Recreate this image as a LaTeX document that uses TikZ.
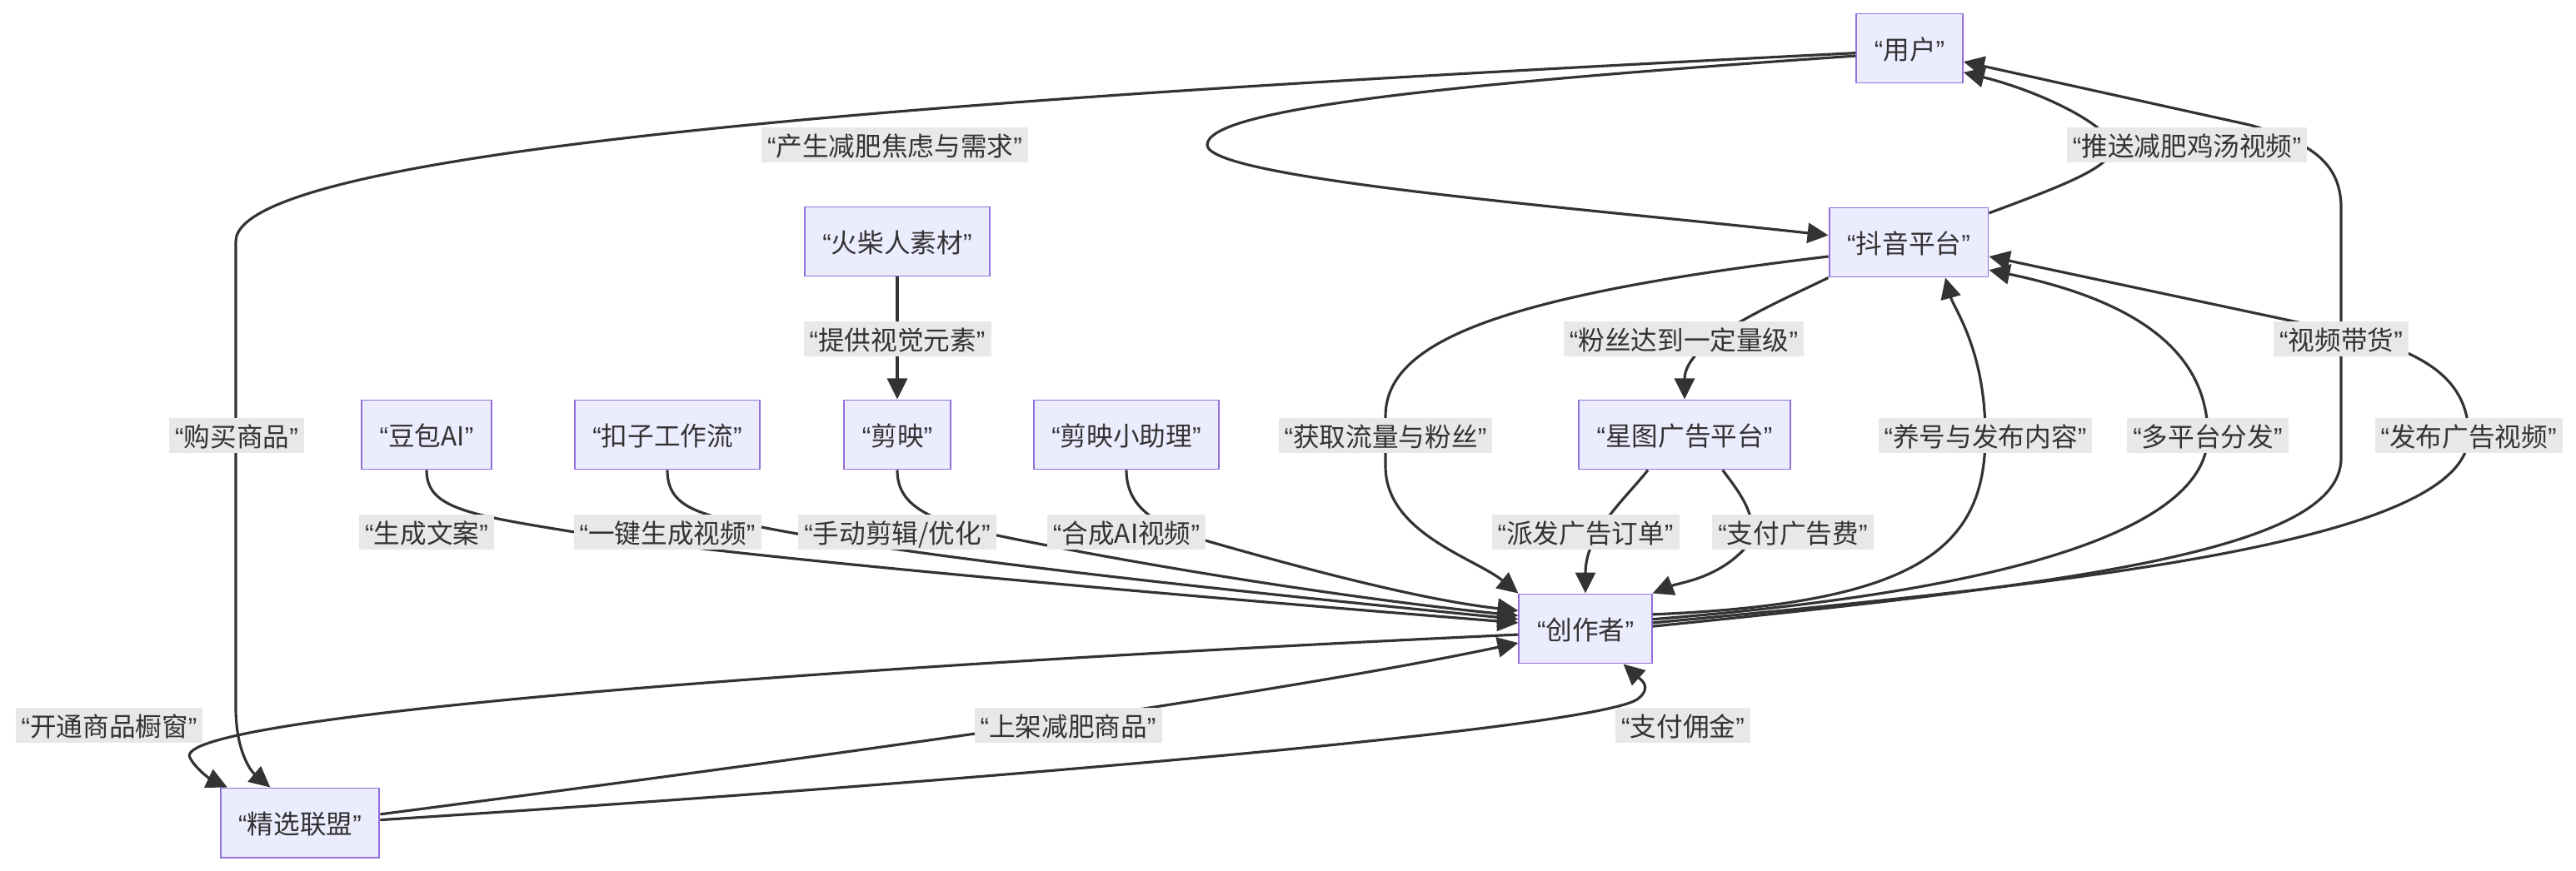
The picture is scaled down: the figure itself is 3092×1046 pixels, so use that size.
\documentclass[tikz,border=0pt]{standalone}
\usepackage{fontspec}
\setmainfont{Noto Sans CJK SC}
\newfontfamily\qfont{Liberation Sans}
\usepackage{tikz}
\usetikzlibrary{arrows.meta}
\definecolor{nodefill}{HTML}{ECECFF}
\definecolor{nodeline}{HTML}{9370DB}
\definecolor{edgecol}{HTML}{333333}
\definecolor{lblfill}{HTML}{E8E8E8}
\newcommand{\qt}[1]{{\qfont “}#1{\qfont ”}}

\begin{document}
\begin{tikzpicture}[x=0.01cm, y=-0.01cm,
    every node/.style={font=\fontsize{9}{10}\selectfont, text=edgecol},
    box/.style={draw=nodeline, fill=nodefill, line width=0.55pt, minimum height=0.83cm,
        inner xsep=0.216cm, text height=0.88em, text depth=0.12em},
    lbl/.style={fill=lblfill, inner xsep=0.07cm, inner ysep=0.03cm,
        text height=0.88em, text depth=0.12em},
    flow/.style={draw=edgecol, line width=0.9pt, -{Triangle[length=0.25cm,width=0.24cm]}}]
    \useasboundingbox (0,0) rectangle (3092,1046);

    % Nodos principales
    \node[box] (user) at (2292,58) {\qt{用户}};
    \node[box] (douyin) at (2291,291) {\qt{抖音平台}};
    \node[box] (match) at (1077,290) {\qt{火柴人素材}};
    \node[box] (dou) at (512,522) {\qt{豆包AI}};
    \node[box] (kouzi) at (801,522) {\qt{扣子工作流}};
    \node[box] (jy) at (1077,522) {\qt{剪映}};
    \node[box] (helper) at (1352,522) {\qt{剪映小助理}};
    \node[box] (xingtu) at (2022,522) {\qt{星图广告平台}};
    \node[box] (creator) at (1903,755) {\qt{创作者}};
    \node[box] (jxlm) at (360,988) {\qt{精选联盟}};

    % Arcos desde el usuario
    \draw[flow] (user.188) .. controls (1750,100) and (1449,130) .. (1449,174)
        .. controls (1449,215) and (1900,250) .. (douyin.175);
    \draw[flow] (user.185) .. controls (1300,110) and (283,170) .. (283,290) -- (283,850)
        .. controls (283,900) and (300,925) .. (jxlm.130);

    % Arcos hacia el usuario
    \draw[flow] (douyin.20) .. controls (2470,225) and (2540,200) .. (2535,175)
        .. controls (2530,150) and (2450,110) .. (user.-24);
    \draw[flow] (creator.2) .. controls (2500,700) and (2810,660) .. (2810,550) -- (2810,250)
        .. controls (2810,200) and (2780,172) .. (2700,150) -- (user.-14);

    % Arcos desde la plataforma
    \draw[flow] (douyin.190) .. controls (1800,355) and (1663,410) .. (1663,500) -- (1663,560)
        .. controls (1663,640) and (1770,670) .. (creator.north west);
    \draw[flow] (douyin.south west) .. controls (2130,365) and (2022,410) .. (xingtu.north);
    \draw[flow] (match) -- (jy);

    % Herramientas hacia el creador
    \draw[flow] (dou.south) .. controls (512,610) and (560,618) .. (690,639)
        .. controls (900,672) and (1500,722) .. (creator.175);
    \draw[flow] (kouzi.south) .. controls (801,610) and (840,618) .. (914,633)
        .. controls (1100,670) and (1500,712) .. (creator.172);
    \draw[flow] (jy.south) .. controls (1077,605) and (1110,625) .. (1197,643)
        .. controls (1400,685) and (1650,722) .. (creator.169);
    \draw[flow] (helper.south) .. controls (1352,605) and (1380,630) .. (1450,650)
        .. controls (1600,693) and (1720,722) .. (creator.165);

    %星图 hacia el creador
    \draw[flow] (xingtu.224) .. controls (1950,600) and (1903,640) .. (creator.north);
    \draw[flow] (xingtu.-43) .. controls (2095,600) and (2115,630) .. (2093,660)
        .. controls (2060,695) and (2015,700) .. (creator.north east);

    % Arcos desde el creador hacia la plataforma
    \draw[flow] (creator.12) .. controls (2300,725) and (2383,660) .. (2383,523)
        .. controls (2383,420) and (2345,370) .. (douyin.-44);
    \draw[flow] (creator.8) .. controls (2350,715) and (2650,650) .. (2650,523)
        .. controls (2650,420) and (2560,360) .. (douyin.-19);
    \draw[flow] (creator.5) .. controls (2500,700) and (2963,650) .. (2963,523)
        .. controls (2963,450) and (2900,420) .. (2810,398) -- (douyin.-10);

    % Arcos con el 精选联盟
    \draw[flow] (jxlm.6) .. controls (900,920) and (1500,840) .. (creator.192);
    \draw[flow] (jxlm.2) .. controls (1000,950) and (1900,880) .. (1965,840)
        .. controls (1985,825) and (1968,815) .. (creator.-43);
    \draw[flow] (creator.185) .. controls (1000,800) and (200,860) .. (228,910)
        .. controls (236,925) and (255,937) .. (jxlm.154);

    % Etiquetas de los arcos
    \node[lbl] (lDemand) at (1074,174) {\qt{产生减肥焦虑与需求}};
    \node[lbl] (lPush) at (2625,174) {\qt{推送减肥鸡汤视频}};
    \node[lbl] (lVisual) at (1077,407) {\qt{提供视觉元素}};
    \node[lbl] (lFans) at (2021,407) {\qt{粉丝达到一定量级}};
    \node[lbl] (lSell) at (2810,407) {\qt{视频带货}};
    \node[lbl] (lBuy) at (284,523) {\qt{购买商品}};
    \node[lbl] (lTraffic) at (1663,523) {\qt{获取流量与粉丝}};
    \node[lbl] (lPost) at (2383,523) {\qt{养号与发布内容}};
    \node[lbl] (lMulti) at (2650,523) {\qt{多平台分发}};
    \node[lbl] (lAdVideo) at (2963,523) {\qt{发布广告视频}};
    \node[lbl] (lCopy) at (512,639) {\qt{生成文案}};
    \node[lbl] (lOneKey) at (801,639) {\qt{一键生成视频}};
    \node[lbl] (lEdit) at (1077,639) {\qt{手动剪辑/优化}};
    \node[lbl] (lSynth) at (1352,639) {\qt{合成AI视频}};
    \node[lbl] (lOrder) at (1903,639) {\qt{派发广告订单}};
    \node[lbl] (lAdFee) at (2152,639) {\qt{支付广告费}};
    \node[lbl] (lShop) at (131,871) {\qt{开通商品橱窗}};
    \node[lbl] (lList) at (1282,871) {\qt{上架减肥商品}};
    \node[lbl] (lCommission) at (2020,871) {\qt{支付佣金}};
\end{tikzpicture}
\end{document}
